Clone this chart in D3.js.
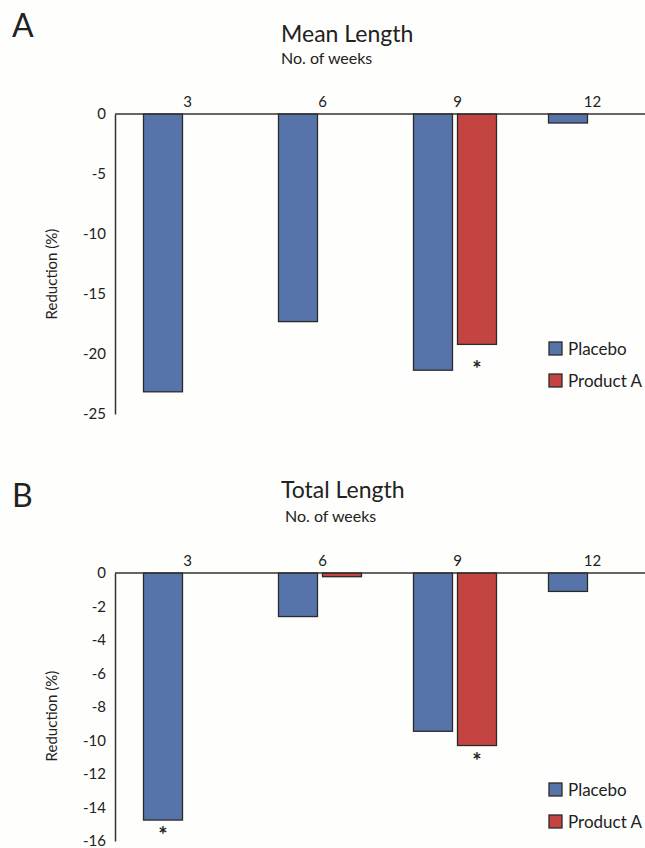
<!DOCTYPE html>
<html>
<head>
<meta charset="utf-8">
<script src="https://cdn.jsdelivr.net/npm/d3@7"></script>
<style>
  body { margin: 0; background: #fefefc; }
  svg { display: block; }
  text { font-family: Lato, "Open Sans", sans-serif; fill: #222; }
</style>
</head>
<body>
<svg width="645" height="848"></svg>
<script>
const weeks = ["3", "6", "9", "12"]
const series = ["Placebo", "Product A"]

// Mean length (A)
const meanPlacebo = [-23.15, -17.3, -21.35, -0.75]
const meanProductA = [null, null, -19.2, null]
const meanStarPlacebo = [false, false, false, false]
const meanStarProductA = [false, false, true, false]
const meanTicks = [0, -5, -10, -15, -20, -25]

// Total length (B)
const totalPlacebo = [-14.75, -2.6, -9.45, -1.1]
const totalProductA = [null, -0.22, -10.3, null]
const totalStarPlacebo = [true, false, false, false]
const totalStarProductA = [false, false, true, false]
const totalTicks = [0, -2, -4, -6, -8, -10, -12, -14, -16]

const colors = { "Placebo": "#5674a9", "Product A": "#c44442" }

const svg = d3.select("svg")
svg.append("rect").attr("width", 645).attr("height", 848).attr("fill", "#fefefc")

function toRows(placebo, productA, starP, starA){
    const rows = []
    weeks.forEach((w, i) => {
        if (placebo[i] !== null) rows.push({ week: w, series: "Placebo", value: placebo[i], star: starP[i] })
        if (productA[i] !== null) rows.push({ week: w, series: "Product A", value: productA[i], star: starA[i] })
    })
    return rows
}

function drawPanel(cfg){
    const g = svg.append("g")
    const x0 = d3.scaleBand().domain(weeks).range([120, 660])
    const x1 = d3.scaleBand().domain(series).range([-44, 39]).paddingInner(5 / 44)
    const y = d3.scaleLinear().domain([d3.min(cfg.ticks), 0]).range([cfg.bottom, cfg.top])

    g.append("text").attr("x", 12).attr("y", cfg.letterY)
        .style("font-size", "32px").text(cfg.letter)
    g.append("text").attr("x", 281).attr("y", cfg.titleY)
        .style("font-size", "23px").text(cfg.title)
    g.append("text").attr("x", cfg.subX).attr("y", cfg.titleY + cfg.subGap)
        .style("font-size", "16px").text("No. of weeks")

    g.append("text")
        .attr("transform", `translate(57,${cfg.labelY}) rotate(-90)`)
        .attr("text-anchor", "middle")
        .style("font-size", "15px")
        .text("Reduction (%)")

    // y axis (plain hyphen for negatives, like the original)
    const yAxis = g.append("g").attr("transform", "translate(115,0)")
        .call(d3.axisLeft(y).tickValues(cfg.ticks).tickFormat(d => String(d))
            .tickSize(0).tickPadding(9).tickSizeOuter(0))
    yAxis.select(".domain").attr("stroke", "#333").attr("stroke-width", 1.5)
    yAxis.selectAll("text").style("font-size", "15px").attr("fill", "#222")
        .style("font-family", "Lato, sans-serif")

    // bars
    g.selectAll("rect.bar")
        .data(cfg.rows)
        .enter()
        .append("rect")
        .attr("class", "bar")
        .attr("x", d => x0(d.week) + x0.bandwidth() / 2 + x1(d.series))
        .attr("y", y(0))
        .attr("width", x1.bandwidth())
        .attr("height", d => y(d.value) - y(0))
        .attr("fill", d => colors[d.series])
        .attr("stroke", "#2a2a2a")
        .attr("stroke-width", 1.3)

    g.selectAll("text.star")
        .data(cfg.rows.filter(d => d.star))
        .enter()
        .append("text")
        .attr("class", "star")
        .attr("x", d => x0(d.week) + x0.bandwidth() / 2 + x1(d.series) + x1.bandwidth() / 2)
        .attr("y", d => y(d.value) + cfg.starGap)
        .attr("text-anchor", "middle")
        .style("font-size", "22px")
        .style("font-weight", 700)
        .text("*")

    // zero line + category labels on top
    g.append("line")
        .attr("x1", 115).attr("x2", 645)
        .attr("y1", y(0)).attr("y2", y(0))
        .attr("stroke", "#333").attr("stroke-width", 1.5)

    const xAxis = g.append("g").attr("transform", `translate(0,${y(0)})`)
        .call(d3.axisTop(x0).tickSize(0).tickPadding(7))
    xAxis.select(".domain").remove()
    xAxis.selectAll("text").style("font-size", "15px").attr("fill", "#222")
        .style("font-family", "Lato, sans-serif")

    // legend
    const leg = g.selectAll("g.leg")
        .data(series)
        .enter()
        .append("g")
        .attr("class", "leg")
        .attr("transform", (d, i) => `translate(549,${cfg.legendY + i * 32})`)
    leg.append("rect").attr("width", 13).attr("height", 13)
        .attr("fill", d => colors[d]).attr("stroke", "#2a2a2a").attr("stroke-width", 1.3)
    leg.append("text").attr("x", 19).attr("y", 12.5)
        .style("font-size", "17px").text(d => d)
}

drawPanel({
    letter: "A", letterY: 37, title: "Mean Length", titleY: 42, subX: 281, subGap: 22,
    labelY: 274, top: 114, bottom: 414, ticks: meanTicks, legendY: 342, starGap: 33,
    rows: toRows(meanPlacebo, meanProductA, meanStarPlacebo, meanStarProductA)
})

drawPanel({
    letter: "B", letterY: 507, title: "Total Length", titleY: 498, subX: 285, subGap: 24,
    labelY: 716, top: 573, bottom: 841, ticks: totalTicks, legendY: 783, starGap: 23,
    rows: toRows(totalPlacebo, totalProductA, totalStarPlacebo, totalStarProductA)
})
</script>
</body>
</html>
